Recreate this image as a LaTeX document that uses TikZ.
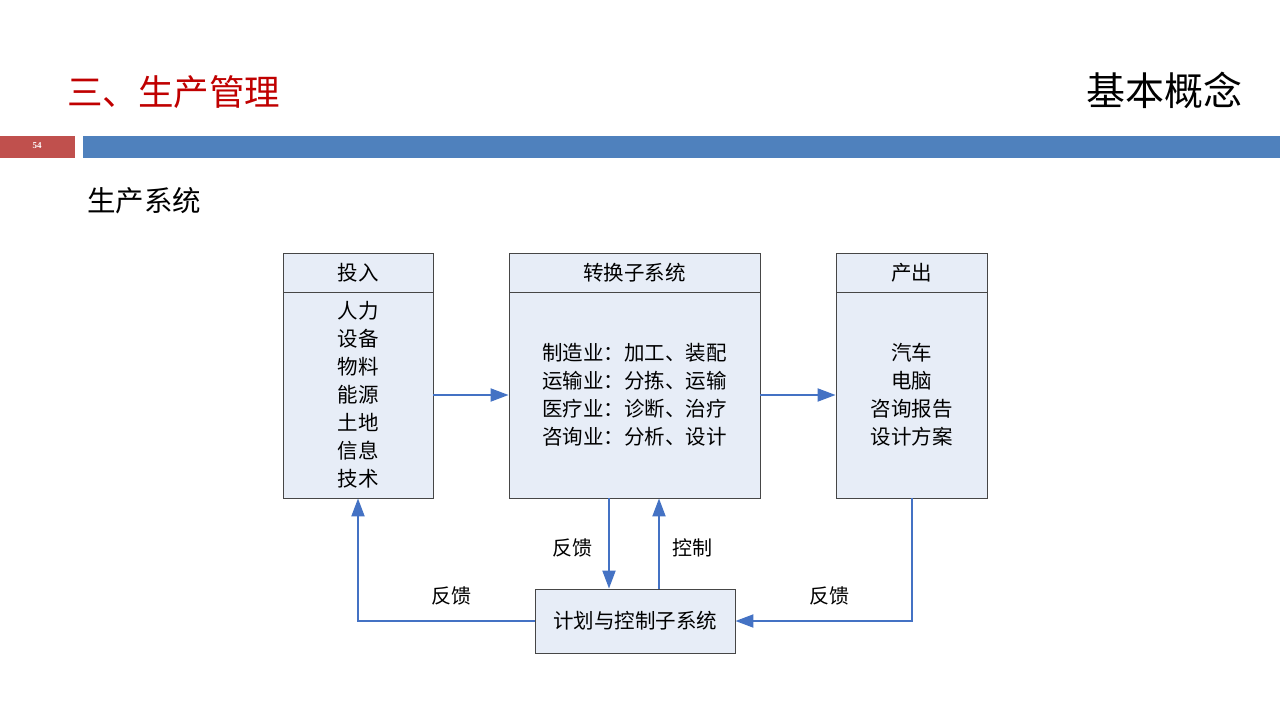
\documentclass[tikz,border=0pt]{standalone}
\usepackage{fontspec}
\setmainfont{Noto Sans CJK SC}
\newfontfamily\numfont{Liberation Serif}
\usetikzlibrary{arrows.meta,positioning}
\definecolor{titlered}{RGB}{192,0,0}
\definecolor{barred}{RGB}{192,80,77}
\definecolor{barblue}{RGB}{79,129,189}
\definecolor{boxfill}{RGB}{231,237,247}
\definecolor{boxline}{RGB}{70,70,70}
\definecolor{arrowblue}{RGB}{68,114,196}
\tikzset{
  box/.style={draw=boxline, line width=0.9pt, fill=boxfill, inner sep=0pt, align=center,
    font=\fontsize{20.5}{28}\selectfont},
  flow/.style={draw=arrowblue, line width=2pt, -{Triangle[length=18pt,width=13pt]}},
  lbl/.style={font=\fontsize{20}{22}\selectfont, inner sep=0pt}
}
\begin{document}
\begin{tikzpicture}[x=1pt,y=-1pt]
\useasboundingbox (0,0) rectangle (1280,720);
\fill[white] (0,0) rectangle (1280,720);
% header
\node[text=titlered, font=\fontsize{35.5}{40}\selectfont, anchor=west, inner sep=0pt] (title) at (67,92) {三、生产管理};
\node[font=\fontsize{39}{44}\selectfont, anchor=east, inner sep=0pt] (topic) at (1243,90) {基本概念};
\fill[barred] (0,136) rectangle (75,158);
\fill[barblue] (83,136) rectangle (1280,158);
\node[text=white, font=\numfont\bfseries\fontsize{9}{10}\selectfont, inner sep=0pt] (pnum) at (37,146) {54};
\node[font=\fontsize{28.5}{32}\selectfont, anchor=west, inner sep=0pt] (sub) at (87,201) {生产系统};

% boxes
\node[box, minimum width=150pt, minimum height=39pt] (inhead) at (358,272.5) {投入};
\node[box, minimum width=150pt, minimum height=206pt] (inbody) at (358,395) {人力\\设备\\物料\\能源\\土地\\信息\\技术};
\node[box, minimum width=251pt, minimum height=39pt] (convhead) at (634.5,272.5) {转换子系统};
\node[box, minimum width=251pt, minimum height=206pt] (convbody) at (634.5,395) {制造业：加工、装配\\运输业：分拣、运输\\医疗业：诊断、治疗\\咨询业：分析、设计};
\node[box, minimum width=151pt, minimum height=39pt] (outhead) at (911.5,272.5) {产出};
\node[box, minimum width=151pt, minimum height=206pt] (outbody) at (911.5,395) {汽车\\电脑\\咨询报告\\设计方案};
\node[box, minimum width=200pt, minimum height=64pt] (plan) at (635,621) {计划与控制子系统};

% connectors
\draw[flow] (inbody.east) -- (convbody.west);
\draw[flow] (convbody.east) -- (outbody.west);
\draw[flow] ([xshift=-25.5pt]convbody.south) -- ([xshift=-26pt]plan.north);
\draw[flow] ([xshift=24pt]plan.north) -- ([xshift=24.5pt]convbody.south);
\draw[flow] (plan.west) -| (inbody.south);
\draw[flow] (outbody.south) |- (plan.east);

% labels
\node[lbl] (fb1) at (572,548) {反馈};
\node[lbl] (ctl) at (692,548) {控制};
\node[lbl] (fb2) at (451,596) {反馈};
\node[lbl] (fb3) at (829,596) {反馈};
\end{tikzpicture}
\end{document}
